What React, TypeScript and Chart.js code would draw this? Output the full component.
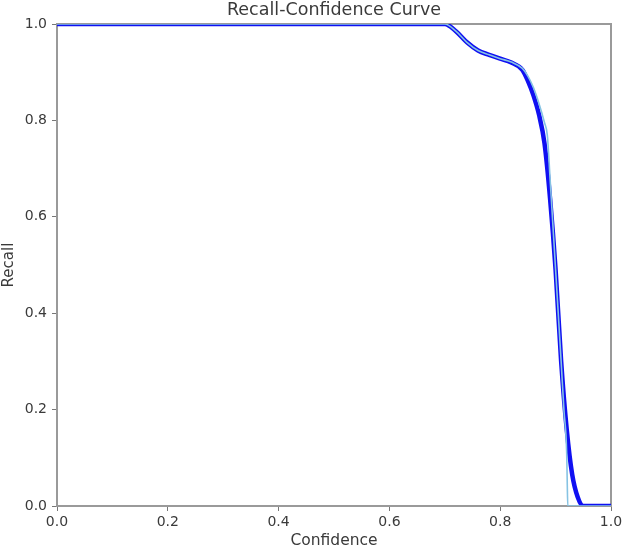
import React, { useEffect, useRef } from "react";
import { Chart, registerables } from "chart.js";

Chart.register(...registerables);

const TITLE = "Recall-Confidence Curve";
const X_LABEL = "Confidence";
const Y_LABEL = "Recall";

// "all classes" thick curve
const allConf = [0, 0.7, 0.72, 0.74, 0.76, 0.78, 0.8, 0.82, 0.84, 0.85, 0.86, 0.87, 0.88, 0.89, 0.9, 0.91, 0.92, 0.93, 0.94, 0.95, 1.0];
const allRecall = [1, 1, 0.985, 0.962, 0.945, 0.936, 0.928, 0.92, 0.905, 0.882, 0.852, 0.812, 0.752, 0.638, 0.49, 0.3, 0.16, 0.065, 0.018, 0, 0];

// single class thin curve
const clsConf = [0, 0.7, 0.72, 0.74, 0.76, 0.78, 0.8, 0.82, 0.84, 0.85, 0.86, 0.87, 0.88, 0.885, 0.89, 0.9, 0.91, 0.915, 0.92, 0.921, 0.922, 1.0];
const clsRecall = [1, 1, 0.985, 0.962, 0.945, 0.936, 0.928, 0.921, 0.908, 0.892, 0.868, 0.835, 0.795, 0.77, 0.68, 0.49, 0.3, 0.2, 0.11, 0.05, 0, 0];

const xTicks = [0, 0.2, 0.4, 0.6, 0.8, 1.0];
const yTicks = [0, 0.2, 0.4, 0.6, 0.8, 1.0];

const FONT = "'DejaVu Sans', sans-serif";
const TEXT = "#3a3a3a";
const SPINE = "#9a9a9a";

export default function App() {
  const ref = useRef<HTMLCanvasElement | null>(null);
  useEffect(() => {
    document.body.style.margin = "0";
    const canvas = ref.current;
    if (!canvas) return;
    const framePlugin = {
      id: "frameTitle",
      beforeDatasetsDraw(chart: any) {
        const { ctx, chartArea } = chart;
        ctx.save();
        ctx.strokeStyle = SPINE;
        ctx.lineWidth = 2;
        ctx.strokeRect(chartArea.left, chartArea.top, chartArea.right - chartArea.left, chartArea.bottom - chartArea.top);
        ctx.restore();
      },
      afterDraw(chart: any) {
        const { ctx, chartArea } = chart;
        ctx.save();
        ctx.fillStyle = TEXT;
        ctx.font = `17.5px ${FONT}`;
        ctx.textAlign = "center";
        ctx.textBaseline = "middle";
        ctx.fillText(TITLE, (chartArea.left + chartArea.right) / 2, 10);
        ctx.restore();
      },
    };
    const chart = new Chart(canvas, {
      type: "scatter",
      data: {
        datasets: [
          {
            label: "class",
            data: clsConf.map((x, i) => ({ x, y: clsRecall[i] })),
            showLine: true,
            borderColor: "#86c3e3",
            borderWidth: 1.6,
            pointRadius: 0,
            cubicInterpolationMode: "monotone",
          },
          {
            label: "all classes",
            data: allConf.map((x, i) => ({ x, y: allRecall[i] })),
            showLine: true,
            borderColor: "#1010f2",
            borderWidth: 4.5,
            pointRadius: 0,
            cubicInterpolationMode: "monotone",
          },
        ],
      },
      options: {
        animation: false,
        responsive: false,
        layout: { padding: { top: 24, right: 17, left: 0, bottom: 0 } },
        plugins: { legend: { display: false }, title: { display: false }, tooltip: { enabled: false } },
        scales: {
          x: {
            type: "linear",
            min: 0,
            max: 1,
            afterFit: (s: any) => { s.height = 43; },
            afterBuildTicks: (s: any) => { s.ticks = xTicks.map((v) => ({ value: v })); },
            ticks: { color: TEXT, font: { family: FONT, size: 14 }, padding: 3, callback: (v: any) => Number(v).toFixed(1), maxRotation: 0 },
            grid: { display: true, drawOnChartArea: false, drawTicks: true, tickLength: 5, color: "#777" },
            border: { display: true, color: SPINE, width: 2 },
            title: { display: true, text: X_LABEL, color: TEXT, font: { family: FONT, size: 15.5, lineHeight: 1 }, padding: { top: 0, bottom: 0 } },
          },
          y: {
            type: "linear",
            min: 0,
            max: 1,
            afterFit: (s: any) => { s.width = 57; },
            afterBuildTicks: (s: any) => { s.ticks = yTicks.map((v) => ({ value: v })); },
            ticks: { color: TEXT, font: { family: FONT, size: 14 }, padding: 5, callback: (v: any) => Number(v).toFixed(1) },
            grid: { display: true, drawOnChartArea: false, drawTicks: true, tickLength: 5, color: "#777" },
            border: { display: true, color: SPINE, width: 2 },
            title: { display: true, text: Y_LABEL, color: TEXT, font: { family: FONT, size: 15, lineHeight: 1 }, padding: { top: 2, bottom: 0 } },
          },
        },
      },
      plugins: [framePlugin],
    } as any);
    return () => chart.destroy();
  }, []);
  return (
    <div style={{ width: 628, height: 549, background: "#fff" }}>
      <canvas ref={ref} width={628} height={549} style={{ display: "block" }} />
    </div>
  );
}
